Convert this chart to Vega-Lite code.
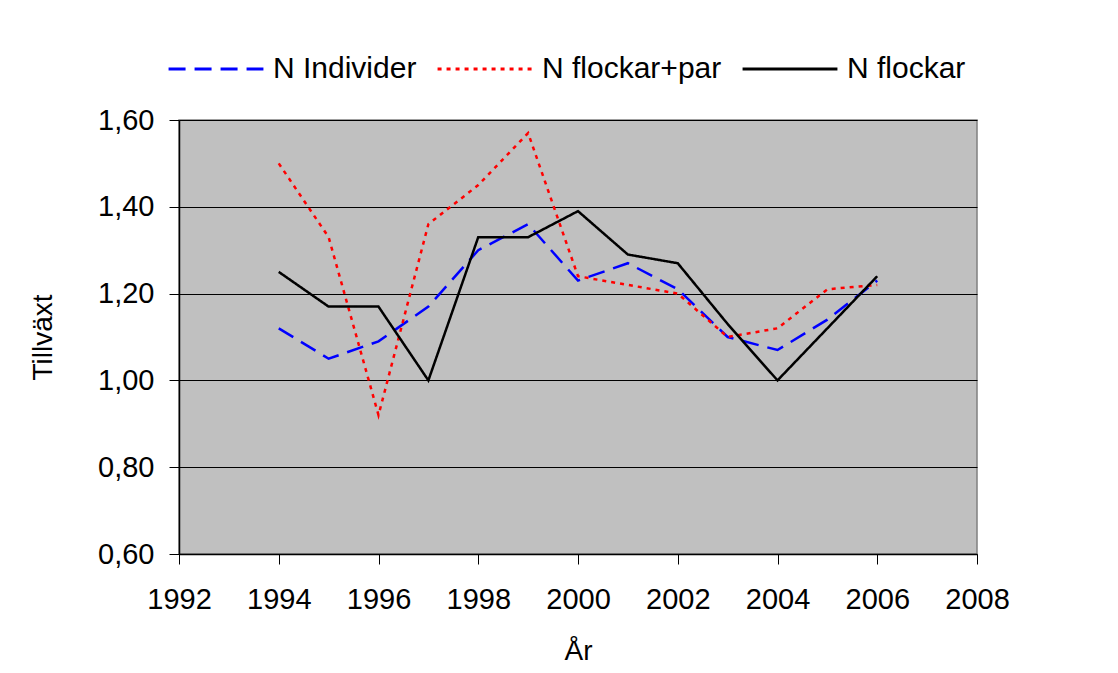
{
  "$schema": "https://vega.github.io/schema/vega-lite/v6.json",
  "width": 798,
  "height": 434,
  "autosize": {"type": "none"},
  "padding": {"left": 179, "top": 120, "right": 141, "bottom": 119},
  "background": "white",
  "config": {
    "font": "Liberation Sans, Arial",
    "view": {"fill": "#C0C0C0", "stroke": "#808080", "strokeWidth": 1.5}
  },
  "data": {
    "values": [
      {"year": 1994, "series": "N Individer", "value": 1.12},
      {"year": 1995, "series": "N Individer", "value": 1.05},
      {"year": 1996, "series": "N Individer", "value": 1.09},
      {"year": 1997, "series": "N Individer", "value": 1.17},
      {"year": 1998, "series": "N Individer", "value": 1.30},
      {"year": 1999, "series": "N Individer", "value": 1.36},
      {"year": 2000, "series": "N Individer", "value": 1.23},
      {"year": 2001, "series": "N Individer", "value": 1.27},
      {"year": 2002, "series": "N Individer", "value": 1.21},
      {"year": 2003, "series": "N Individer", "value": 1.10},
      {"year": 2004, "series": "N Individer", "value": 1.07},
      {"year": 2005, "series": "N Individer", "value": 1.14},
      {"year": 2006, "series": "N Individer", "value": 1.23},
      {"year": 1994, "series": "N flockar+par", "value": 1.50},
      {"year": 1995, "series": "N flockar+par", "value": 1.33},
      {"year": 1996, "series": "N flockar+par", "value": 0.92},
      {"year": 1997, "series": "N flockar+par", "value": 1.36},
      {"year": 1998, "series": "N flockar+par", "value": 1.45},
      {"year": 1999, "series": "N flockar+par", "value": 1.57},
      {"year": 2000, "series": "N flockar+par", "value": 1.24},
      {"year": 2001, "series": "N flockar+par", "value": 1.22},
      {"year": 2002, "series": "N flockar+par", "value": 1.20},
      {"year": 2003, "series": "N flockar+par", "value": 1.10},
      {"year": 2004, "series": "N flockar+par", "value": 1.12},
      {"year": 2005, "series": "N flockar+par", "value": 1.21},
      {"year": 2006, "series": "N flockar+par", "value": 1.22},
      {"year": 1994, "series": "N flockar", "value": 1.25},
      {"year": 1995, "series": "N flockar", "value": 1.17},
      {"year": 1996, "series": "N flockar", "value": 1.17},
      {"year": 1997, "series": "N flockar", "value": 1.00},
      {"year": 1998, "series": "N flockar", "value": 1.33},
      {"year": 1999, "series": "N flockar", "value": 1.33},
      {"year": 2000, "series": "N flockar", "value": 1.39},
      {"year": 2001, "series": "N flockar", "value": 1.29},
      {"year": 2002, "series": "N flockar", "value": 1.27},
      {"year": 2003, "series": "N flockar", "value": 1.13},
      {"year": 2004, "series": "N flockar", "value": 1.00},
      {"year": 2005, "series": "N flockar", "value": 1.12},
      {"year": 2006, "series": "N flockar", "value": 1.24}
    ]
  },
  "mark": {"type": "line", "strokeWidth": 2.5},
  "encoding": {
    "x": {
      "field": "year",
      "type": "quantitative",
      "scale": {"domain": [1992, 2008], "nice": false, "zero": false},
      "axis": {
        "values": [1992, 1994, 1996, 1998, 2000, 2002, 2004, 2006, 2008],
        "format": "d",
        "title": "År",
        "grid": false,
        "labelOverlap": false,
        "labelFlush": false,
        "domainColor": "black",
        "domainWidth": 1.5,
        "tickColor": "black",
        "tickSize": 10,
        "labelPadding": 21,
        "labelFontSize": 29,
        "labelColor": "black",
        "titleFontSize": 28,
        "titleFontWeight": "normal",
        "titleColor": "black",
        "titlePadding": 23
      }
    },
    "y": {
      "field": "value",
      "type": "quantitative",
      "scale": {"domain": [0.6, 1.6], "nice": false, "zero": false},
      "axis": {
        "values": [0.6, 0.8, 1.0, 1.2, 1.4, 1.6],
        "labelExpr": "replace(format(datum.value, '.2f'), '.', ',')",
        "title": "Tillväxt",
        "grid": true,
        "gridColor": "black",
        "gridWidth": 1,
        "gridOpacity": 1,
        "domainColor": "black",
        "domainWidth": 1.5,
        "tickColor": "black",
        "tickSize": 10,
        "labelPadding": 15,
        "labelFontSize": 29,
        "labelColor": "black",
        "titleFontSize": 28,
        "titleFontWeight": "normal",
        "titleColor": "black",
        "titlePadding": 40
      }
    },
    "color": {
      "field": "series",
      "type": "nominal",
      "scale": {
        "domain": ["N Individer", "N flockar+par", "N flockar"],
        "range": ["#0000FF", "#FF0000", "#000000"]
      },
      "legend": {
        "title": null,
        "orient": "none",
        "direction": "horizontal",
        "legendX": -12,
        "legendY": -100,
        "symbolType": "stroke",
        "symbolSize": 9000,
        "symbolStrokeWidth": 3,
        "labelFontSize": 30,
        "labelLimit": 0,
        "labelColor": "black",
        "labelOffset": 8,
        "columnPadding": 14
      }
    },
    "strokeDash": {
      "field": "series",
      "type": "nominal",
      "scale": {
        "domain": ["N Individer", "N flockar+par", "N flockar"],
        "range": [[17, 9], [4, 5], [1, 0]]
      },
      "legend": {
        "title": null,
        "orient": "none",
        "direction": "horizontal",
        "legendX": -12,
        "legendY": -100,
        "symbolType": "stroke",
        "symbolSize": 9000,
        "symbolStrokeWidth": 3,
        "labelFontSize": 30,
        "labelLimit": 0,
        "labelColor": "black",
        "labelOffset": 8,
        "columnPadding": 14
      }
    }
  }
}
